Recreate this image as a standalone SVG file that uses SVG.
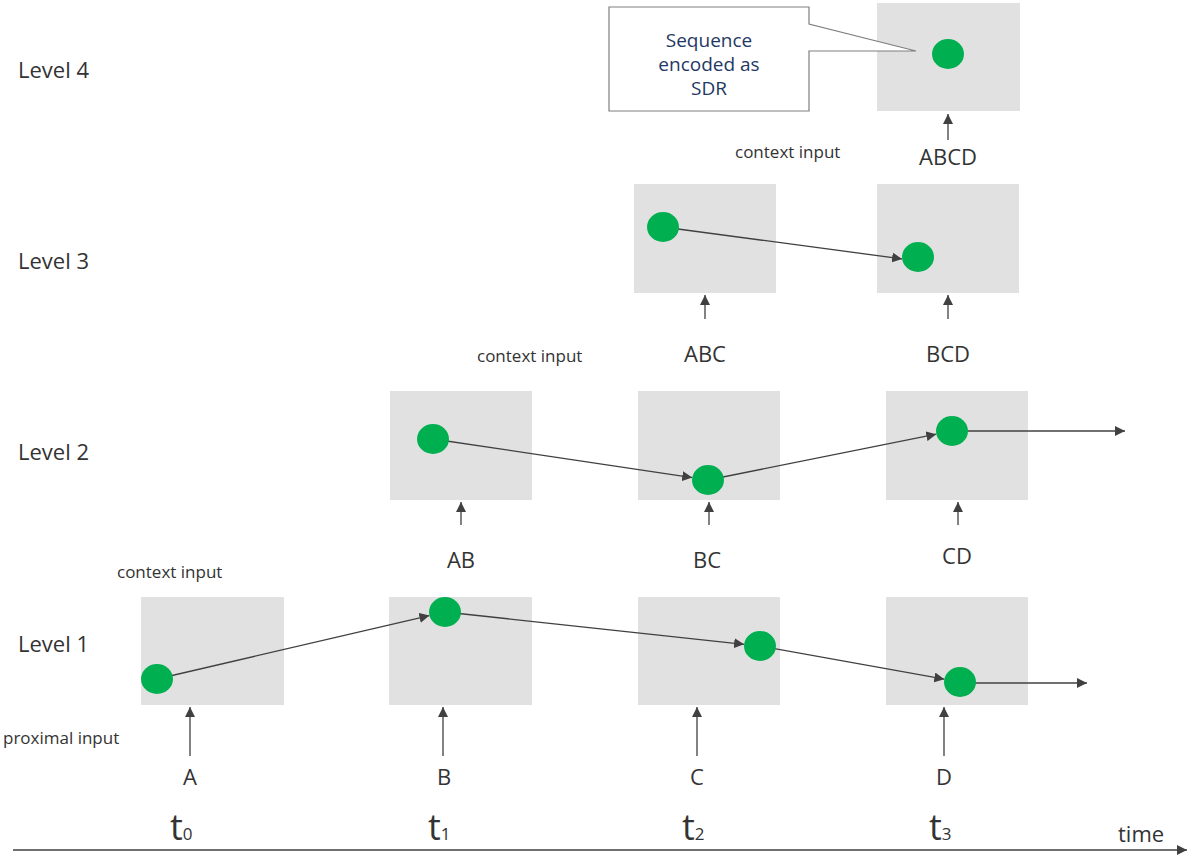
<svg xmlns="http://www.w3.org/2000/svg" width="1187" height="855" viewBox="0 0 1187 855">
<style>
.box{fill:#e1e1e1}
.dot{fill:#00b050}
.ln{stroke:#404040;stroke-width:1.3;fill:none}
.lbl{font-family:"Open Sans","Noto Sans",sans-serif;fill:#333}
.lvl{font-size:22px}
.ctx{font-size:17px}
.in{font-size:22px;text-anchor:middle}
.t{font-size:36px}
.sub{font-size:17px}
.co{font-family:"Open Sans","Noto Sans",sans-serif;fill:#1f3864;font-size:19px;text-anchor:middle}
</style>
<defs>
<marker id="ah" viewBox="0 0 10 10" refX="10" refY="5" markerWidth="10" markerHeight="10" markerUnits="userSpaceOnUse" orient="auto">
<path d="M0,0 L10,5 L0,10 z" fill="#404040"/>
</marker>
</defs>
<rect width="1187" height="855" fill="#fff"/>
<g id="labels">
<text class="lbl lvl" x="18" y="78">Level 4</text>
<text class="lbl lvl" x="18" y="269">Level 3</text>
<text class="lbl lvl" x="18" y="460">Level 2</text>
<text class="lbl lvl" x="18" y="652">Level 1</text>
<text class="lbl ctx" x="735" y="158">context input</text>
<text class="lbl ctx" x="477" y="362">context input</text>
<text class="lbl ctx" x="117" y="578">context input</text>
<text class="lbl ctx" x="3" y="744">proximal input</text>
</g>
<g id="boxes">
<rect id="b4" class="box" x="877" y="3" width="143" height="108"/>
<rect id="b3a" class="box" x="634" y="184" width="142" height="109"/>
<rect id="b3b" class="box" x="877" y="184" width="142" height="109"/>
<rect id="b2a" class="box" x="390" y="391" width="142" height="109"/>
<rect id="b2b" class="box" x="638" y="391" width="142" height="109"/>
<rect id="b2c" class="box" x="886" y="391" width="142" height="109"/>
<rect id="b1a" class="box" x="141" y="597" width="143" height="108"/>
<rect id="b1b" class="box" x="389" y="597" width="143" height="108"/>
<rect id="b1c" class="box" x="638" y="597" width="142" height="108"/>
<rect id="b1d" class="box" x="886" y="597" width="142" height="108"/>
</g>
<g id="callout">
<path d="M609,7 H809 V24 L916,51 L809,51 V111 H609 Z" fill="#fff" stroke="#7f7f7f" stroke-width="1.2"/>
<text class="co" x="709" y="47">Sequence</text>
<text class="co" x="709" y="71">encoded as</text>
<text class="co" x="709" y="95">SDR</text>
</g>
<g id="connectors">
<line class="ln" x1="157" y1="679" x2="429.4" y2="615.6" marker-end="url(#ah)"/>
<line class="ln" x1="445" y1="612" x2="744.1" y2="644.3" marker-end="url(#ah)"/>
<line class="ln" x1="760" y1="646" x2="944.3" y2="679.2" marker-end="url(#ah)"/>
<line class="ln" x1="960" y1="683" x2="1087" y2="683" marker-end="url(#ah)"/>
<line class="ln" x1="433" y1="439" x2="692.2" y2="477.6" marker-end="url(#ah)"/>
<line class="ln" x1="708" y1="480" x2="936.3" y2="434.2" marker-end="url(#ah)"/>
<line class="ln" x1="952" y1="431" x2="1125" y2="431" marker-end="url(#ah)"/>
<line class="ln" x1="663" y1="227" x2="902.1" y2="258.9" marker-end="url(#ah)"/>
<line class="ln" x1="948" y1="140" x2="948" y2="114" marker-end="url(#ah)"/>
<line class="ln" x1="705" y1="319" x2="705" y2="295" marker-end="url(#ah)"/>
<line class="ln" x1="948" y1="319" x2="948" y2="295" marker-end="url(#ah)"/>
<line class="ln" x1="461" y1="525" x2="461" y2="502" marker-end="url(#ah)"/>
<line class="ln" x1="709" y1="525" x2="709" y2="502" marker-end="url(#ah)"/>
<line class="ln" x1="958" y1="525" x2="958" y2="502" marker-end="url(#ah)"/>
<line class="ln" x1="190" y1="756" x2="190" y2="707" marker-end="url(#ah)"/>
<line class="ln" x1="443" y1="756" x2="443" y2="707" marker-end="url(#ah)"/>
<line class="ln" x1="697" y1="756" x2="697" y2="707" marker-end="url(#ah)"/>
<line class="ln" x1="944" y1="756" x2="944" y2="707" marker-end="url(#ah)"/>
<line class="ln" x1="13" y1="850" x2="1187" y2="850" marker-end="url(#ah)"/>
</g>
<g id="dots">
<ellipse class="dot" cx="948" cy="54" rx="16" ry="15"/>
<ellipse class="dot" cx="663" cy="227" rx="16" ry="15"/>
<ellipse class="dot" cx="918" cy="257" rx="16" ry="15"/>
<ellipse class="dot" cx="433" cy="439" rx="16" ry="15"/>
<ellipse class="dot" cx="708" cy="480" rx="16" ry="15"/>
<ellipse class="dot" cx="952" cy="431" rx="16" ry="15"/>
<ellipse class="dot" cx="157" cy="679" rx="16" ry="15"/>
<ellipse class="dot" cx="445" cy="612" rx="16" ry="15"/>
<ellipse class="dot" cx="760" cy="646" rx="16" ry="15"/>
<ellipse class="dot" cx="960" cy="682" rx="16" ry="15"/>
</g>
<g id="inputs">
<text class="lbl in" x="948" y="165">ABCD</text>
<text class="lbl in" x="705" y="362">ABC</text>
<text class="lbl in" x="948" y="362">BCD</text>
<text class="lbl in" x="461" y="568">AB</text>
<text class="lbl in" x="707" y="568">BC</text>
<text class="lbl in" x="957" y="564">CD</text>
<text class="lbl in" x="190" y="785">A</text>
<text class="lbl in" x="444" y="785">B</text>
<text class="lbl in" x="697" y="785">C</text>
<text class="lbl in" x="944" y="785">D</text>
</g>
<g id="time">
<text class="lbl t" x="170" y="840">t<tspan class="sub">0</tspan></text>
<text class="lbl t" x="428" y="840">t<tspan class="sub">1</tspan></text>
<text class="lbl t" x="682" y="840">t<tspan class="sub">2</tspan></text>
<text class="lbl t" x="929" y="840">t<tspan class="sub">3</tspan></text>
<text class="lbl" style="font-size:22px" x="1118" y="842">time</text>
</g>
</svg>
